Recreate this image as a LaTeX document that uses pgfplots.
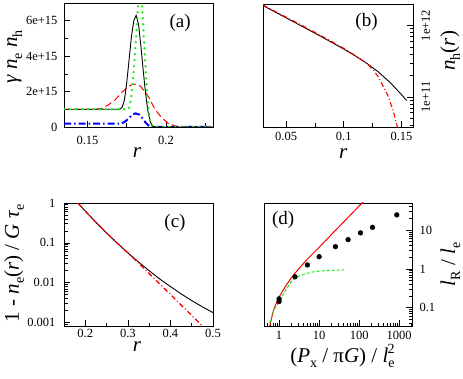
\documentclass[border=0pt]{standalone}
\usepackage{fontspec}
\setmainfont{Liberation Serif}
\usepackage{pgfplots}
\pgfplotsset{compat=1.18}

\definecolor{lgreen}{RGB}{20,235,20}
\newcommand{\lab}{\fontsize{21}{23}\selectfont}
\newcommand{\sub}[1]{\raisebox{-5pt}{\fontsize{14}{14}\selectfont #1}}
\newcommand{\supr}[1]{\raisebox{9pt}{\fontsize{14}{14}\selectfont #1}}

\tikzset{tag/.style={font=\fontsize{19}{21}\selectfont, anchor=center}}
\pgfplotsset{
  panel/.style={
    scale only axis, anchor=south west,
    axis line style={line width=0.9pt},
    tick style={black, line width=0.7pt},
    tick align=inside,
    major tick length=6pt, minor tick length=3.5pt,
    tick label style={font=\fontsize{12.5}{14}\selectfont},
    label style={font=\lab},
    scaled ticks=false,
    /pgf/number format/assume math mode=true,
  },
}

\begin{document}
\begin{tikzpicture}
\useasboundingbox (0,0) rectangle (463pt,379pt);

% (a)
\begin{axis}[panel, at={(64pt,252pt)}, width=149pt, height=124pt,
  xmin=0.135, xmax=0.23, ymin=0, ymax=7e15,
  xtick={0.15,0.2}, xticklabels={0.15,0.2}, minor xtick={0.175,0.225},
  ytick={0,2e15,4e15,6e15}, yticklabels={0,2e+15,4e+15,6e+15},
  minor ytick={1e15,3e15,5e15},
  xtick pos=left, ytick pos=left,
  xticklabel shift=5.5pt, yticklabel shift=3pt,
  xlabel={\textit{r}},
  xlabel style={at={(axis description cs:0.49,0)},anchor=base,yshift=-31pt},
  ylabel={\textit{γ} \textit{n}\sub{e} \textit{n}\sub{h}},
  ylabel style={at={(axis description cs:-0.33,0.565)},anchor=center},
]
\addplot[red, line width=1pt, dash pattern=on 7pt off 3.5pt] coordinates {
(0.135,1e15) (0.155,1e15) (0.159,1.05e15) (0.1632,1.24e15) (0.1675,1.52e15)
(0.1718,1.95e15) (0.176,2.28e15) (0.1785,2.4e15) (0.1813,2.42e15) (0.1838,2.3e15)
(0.186,2.05e15) (0.189,1.7e15) (0.193,1.0e15) (0.197,0.55e15) (0.2015,0.2e15)
(0.206,0.05e15) (0.21,0) (0.23,0)};
\addplot[blue, line width=2pt, dash pattern=on 7pt off 3pt on 1.5pt off 3pt] coordinates {
(0.135,0.19e15) (0.170,0.19e15) (0.173,0.25e15) (0.176,0.45e15) (0.178,0.65e15)
(0.1805,0.77e15) (0.183,0.7e15) (0.185,0.5e15) (0.187,0.25e15) (0.189,0.08e15)
(0.191,0) (0.23,0)};
\addplot[black, line width=0.9pt] coordinates {
(0.135,1e15) (0.1705,1e15) (0.172,1.1e15) (0.1735,1.5e15) (0.175,2.5e15)
(0.1765,3.8e15) (0.178,5.1e15) (0.1795,6.0e15) (0.181,6.3e15) (0.1825,5.8e15)
(0.184,4.6e15) (0.1855,3.2e15) (0.187,1.9e15) (0.1885,0.9e15) (0.19,0.3e15)
(0.1915,0.05e15) (0.1935,0) (0.23,0)};
\addplot[lgreen, line width=2.6pt, line cap=round, dash pattern=on 0pt off 6pt] coordinates {
(0.135,1e15) (0.176,1e15) (0.177,1.2e15) (0.178,1.8e15) (0.179,2.7e15)
(0.180,3.8e15) (0.181,5.1e15) (0.182,6.5e15) (0.183,8.0e15) (0.1835,8.5e15)
(0.184,8.2e15) (0.185,6.6e15) (0.186,4.9e15) (0.187,3.3e15) (0.188,1.9e15)
(0.189,0.9e15) (0.190,0.3e15) (0.191,0.05e15) (0.192,0) (0.23,0)};
\node[tag] at (axis description cs:0.78,0.84) {(a)};
\end{axis}

% (b)
\begin{axis}[panel, at={(263pt,252pt)}, width=150pt, height=123pt,
  ymode=log,
  xmin=0.03, xmax=0.16, ymin=3.8e10, ymax=2e12,
  xtick={0.05,0.1,0.15}, xticklabels={0.05,0.1,0.15}, minor xtick={0.075,0.125},
  ytick={1e11,1e12}, yticklabels={1e+11,1e+12},
  minor ytick={4e10,5e10,6e10,7e10,8e10,9e10,2e11,3e11,4e11,5e11,6e11,7e11,8e11,9e11,2e12},
  xtick pos=left, ytick pos=right, yticklabel pos=right,
  xticklabel shift=2pt, yticklabel shift=5pt,
  yticklabel style={rotate=90, anchor=north},
  xlabel={\textit{r}},
  xlabel style={at={(axis description cs:0.535,0)},anchor=base,yshift=-32pt},
  ylabel={\textit{n}\sub{h}(\textit{r})},
  ylabel style={at={(axis description cs:1.247,0.62)},anchor=center},
]
\addplot[black, line width=0.9pt] coordinates {
(0.03,1.9e12) (0.04,1.56e12) (0.05,1.28e12) (0.06,1.05e12) (0.07,8.61e11)
(0.08,7.05e11) (0.09,5.75e11) (0.1,4.68e11) (0.11,3.75e11) (0.12,2.95e11)
(0.13,2.24e11) (0.14,1.6e11) (0.15,1.08e11) (0.1545,8.9e10)};
\addplot[red, line width=1.1pt, dash pattern=on 5pt off 2.5pt on 1pt off 2.5pt] coordinates {
(0.03,1.93e12) (0.04,1.59e12) (0.05,1.31e12) (0.06,1.08e12) (0.07,8.85e11)
(0.08,7.25e11) (0.09,5.9e11) (0.1,4.78e11) (0.11,3.8e11) (0.12,2.95e11)
(0.125,2.45e11) (0.13,1.9e11) (0.1337,1.46e11) (0.138,1.07e11) (0.1427,6.5e10)
(0.1459,4.1e10) (0.1475,3.2e10)};
\node[tag] at (axis description cs:0.69,0.85) {(b)};
\end{axis}

% (c)
\begin{axis}[panel, at={(64pt,53pt)}, width=149pt, height=123pt,
  ymode=log,
  xmin=0.15, xmax=0.5, ymin=0.00082, ymax=1,
  xtick={0.2,0.3,0.4,0.5}, xticklabels={0.2,0.3,0.4,0.5}, minor xtick={0.25,0.35,0.45},
  ytick={0.001,0.01,0.1,1}, yticklabels={0.001,0.01,0.1,1},
  minor ytick={0.0009,0.002,0.003,0.004,0.005,0.006,0.007,0.008,0.009,
    0.02,0.03,0.04,0.05,0.06,0.07,0.08,0.09,0.2,0.3,0.4,0.5,0.6,0.7,0.8,0.9},
  xtick pos=left, ytick pos=left,
  xticklabel shift=0pt, yticklabel shift=5pt,
  xlabel={\textit{r}},
  xlabel style={at={(axis description cs:0.49,0)},anchor=base,yshift=-26pt},
  ylabel={1 - \textit{n}\sub{e}(\textit{r})  / \textit{G} \textit{τ}\sub{e}},
  ylabel style={at={(axis description cs:-0.335,0.51)},anchor=center},
]
\addplot[black, line width=0.9pt] coordinates {
(0.1825,1) (0.2,0.626) (0.225,0.328) (0.25,0.177) (0.275,0.0984) (0.3,0.0562)
(0.325,0.0331) (0.35,0.02) (0.375,0.0124) (0.4,0.008) (0.425,0.00525)
(0.45,0.00356) (0.475,0.00248) (0.5,0.00178)};
\addplot[red, line width=1.3pt, dash pattern=on 5pt off 2.5pt on 1pt off 2.5pt] coordinates {
(0.1825,1) (0.2,0.626) (0.225,0.328) (0.25,0.177) (0.275,0.0984) (0.3,0.0562)
(0.325,0.031) (0.35,0.017) (0.375,0.0093) (0.4,0.00507) (0.425,0.00277)
(0.45,0.00151) (0.475,0.00083) (0.48,0.00074)};
\node[tag] at (axis description cs:0.745,0.84) {(c)};
\end{axis}

% (d)
\begin{axis}[panel, at={(264pt,53pt)}, width=148pt, height=123pt,
  xmode=log, ymode=log,
  xmin=0.42, xmax=2090, ymin=0.034, ymax=50,
  xtick={1,10,100,1000}, xticklabels={1,10,100,1000},
  minor xtick={0.5,0.6,0.7,0.8,0.9,2,3,4,5,6,7,8,9,20,30,40,50,60,70,80,90,
    200,300,400,500,600,700,800,900,2000},
  ytick={0.1,1,10}, yticklabels={0.1,1,10},
  minor ytick={0.04,0.05,0.06,0.07,0.08,0.09,0.2,0.3,0.4,0.5,0.6,0.7,0.8,0.9,
    2,3,4,5,6,7,8,9,20,30,40,50},
  xtick pos=left, ytick pos=right, yticklabel pos=right,
  xticklabel shift=1.5pt, yticklabel shift=4pt,
  yticklabel style={anchor=west},
  xlabel={(\textit{P}\sub{x} / π\textit{G})  / \textit{l}\sub{e}\hspace{-7pt}\supr{2}},
  xlabel style={at={(axis description cs:0.53,0)},anchor=base,yshift=-37pt},
  ylabel={\textit{l}\sub{R} / \textit{l}\sub{e}},
  ylabel style={at={(axis description cs:1.26,0.5)},anchor=center},
]
\addplot[red, line width=1pt] coordinates {
(0.52,0.008) (0.55,0.019) (0.6,0.038) (0.7,0.076) (0.8,0.114) (1,0.19)
(1.5,0.38) (2,0.58) (2.5,0.78) (3,0.97) (5,1.76) (10,3.6) (20,7.6)
(50,20) (100,42) (130,55)};
\addplot[lgreen, line width=1pt, dash pattern=on 3pt off 2pt] coordinates {
(0.55,0.03) (0.6,0.045) (0.7,0.075) (0.8,0.1) (1,0.14) (1.5,0.3) (2,0.47)
(2.5,0.58) (3,0.64) (4,0.72) (5,0.77) (7,0.84) (11,0.89) (20,0.92) (42,0.95)};
\addplot[only marks, mark=*, mark size=2.4pt, black] coordinates {
(1,0.17) (1,0.145) (2.5,0.63) (5.1,1.27) (10,2.07) (25.6,3.76) (53,5.7)
(108,8.5) (215,11.8) (870,24.7)};
\node[tag] at (axis description cs:0.13,0.86) {(d)};
\end{axis}
\end{tikzpicture}
\end{document}
